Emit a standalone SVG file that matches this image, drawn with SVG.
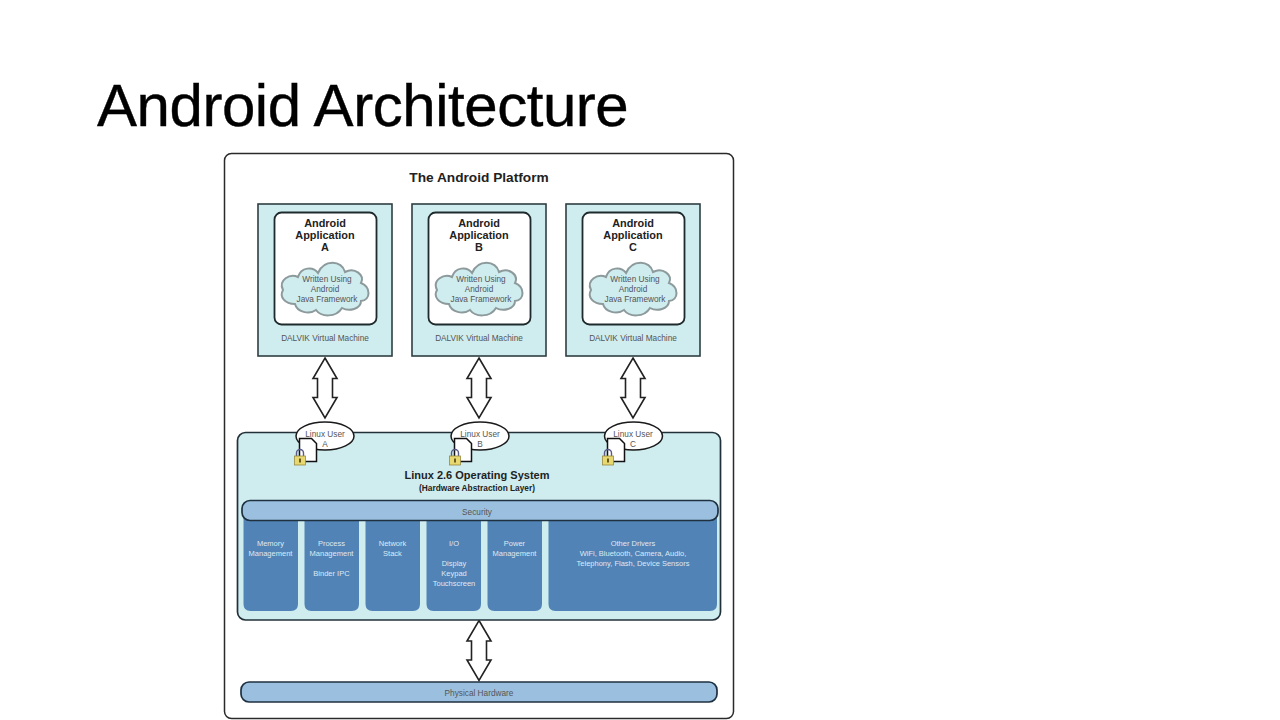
<svg xmlns="http://www.w3.org/2000/svg" xmlns:xlink="http://www.w3.org/1999/xlink" width="1280" height="720" viewBox="0 0 1280 720">
<style>
text{font-family:"Liberation Sans",Arial,sans-serif;text-anchor:middle;fill:#444}
.title{font-size:60px;text-anchor:start;fill:#000;stroke:#000;stroke-width:.4px;letter-spacing:-.45px}
.b{font-weight:bold;fill:#222}
.h{font-size:10.900px}
.s{font-size:8.250px;fill:#555}
.w{font-size:7.500px;fill:#dfe9f3}
.vm{fill:#cfecef;stroke:#2f3f42;stroke-width:1.600}
.app{fill:#fff;stroke:#1f2a2c;stroke-width:1.800}
.bar{fill:#9bc0df;stroke:#1f3040;stroke-width:1.700}
.drv{fill:#5183b6}
.arr{fill:#fff;stroke:#222;stroke-width:1.600}
.cl{fill:#cfecef;stroke:#8d9a9c;stroke-width:2}
</style>
<defs>
<path id="cloud" d="M-30 16C-40 16-46 9-42 2C-47 -8-35 -15-27 -11C-24 -21-12 -22-7 -15C-1 -29 17 -28 20 -16C30 -21 40 -13 36 -5C46 -1 46 12 36 13C36 21 24 24 17 20C11 30-4 29-9 22C-16 27-28 24-30 16Z"/>
<path id="arrow" d="M0 0L12 20.500H7.500V39.500H12L0 60L-12 39.500H-7.500V20.500H-12Z"/>
<g id="lock">
<path d="M-3.500 -3V-6A3.500 3.500 0 0 1 3.500 -6V-3" fill="none" stroke="#5a5a8a" stroke-width="1.400"/>
<rect x="-5.500" y="-3" width="11" height="9" fill="#e8d870" stroke="#9a8a40" stroke-width=".8"/>
<rect x="-1" y="-.5" width="2" height="4" fill="#6a5a20"/>
</g>
<path id="doc" d="M-8.500 -11.500H3.500L8.500 -6.500V11.500H-8.500Z" fill="#fff" stroke="#111" stroke-width="1.500"/>
</defs>
<rect width="1280" height="720" fill="#fff"/>
<text class="title" x="97" y="126">Android Architecture</text>
<rect id="platform" x="224.500" y="153.500" width="509" height="565" rx="7" fill="#fff" stroke="#2a2a2a" stroke-width="1.500"/>
<text class="b" x="479" y="182" style="font-size:13.700px">The Android Platform</text>

<g id="connectors">
<use xlink:href="#arrow" href="#arrow" class="arr" transform="translate(325 358)"/>
<use xlink:href="#arrow" href="#arrow" class="arr" transform="translate(479 358)"/>
<use xlink:href="#arrow" href="#arrow" class="arr" transform="translate(633 358)"/>
<use xlink:href="#arrow" href="#arrow" class="arr" transform="translate(479 620.500)"/>
</g>

<g id="vm-a">
<rect class="vm" x="258" y="204" width="134" height="152"/>
<rect class="app" x="274.500" y="212.500" width="102" height="112" rx="7"/>
<text class="b h" x="325" y="227">Android</text><text class="b h" x="325" y="239">Application</text><text class="b h" x="325" y="251">A</text>
<use xlink:href="#cloud" href="#cloud" class="cl" transform="translate(325 288)"/>
<text class="s" x="327" y="282">Written Using</text><text class="s" x="325" y="292">Android</text><text class="s" x="327" y="302">Java Framework</text>
<text class="s" x="325" y="341">DALVIK Virtual Machine</text>
</g>
<g id="vm-b">
<rect class="vm" x="412" y="204" width="134" height="152"/>
<rect class="app" x="428.500" y="212.500" width="102" height="112" rx="7"/>
<text class="b h" x="479" y="227">Android</text><text class="b h" x="479" y="239">Application</text><text class="b h" x="479" y="251">B</text>
<use xlink:href="#cloud" href="#cloud" class="cl" transform="translate(479 288)"/>
<text class="s" x="481" y="282">Written Using</text><text class="s" x="479" y="292">Android</text><text class="s" x="481" y="302">Java Framework</text>
<text class="s" x="479" y="341">DALVIK Virtual Machine</text>
</g>
<g id="vm-c">
<rect class="vm" x="566" y="204" width="134" height="152"/>
<rect class="app" x="582.500" y="212.500" width="102" height="112" rx="7"/>
<text class="b h" x="633" y="227">Android</text><text class="b h" x="633" y="239">Application</text><text class="b h" x="633" y="251">C</text>
<use xlink:href="#cloud" href="#cloud" class="cl" transform="translate(633 288)"/>
<text class="s" x="635" y="282">Written Using</text><text class="s" x="633" y="292">Android</text><text class="s" x="635" y="302">Java Framework</text>
<text class="s" x="633" y="341">DALVIK Virtual Machine</text>
</g>

<g id="linux">
<rect x="237.500" y="432.500" width="483" height="187.500" rx="8" fill="#cfecef" stroke="#22303a" stroke-width="1.700"/>
<text class="b" x="477" y="479" style="font-size:11px">Linux 2.6 Operating System</text>
<text class="b" x="477" y="491" style="font-size:8.300px">(Hardware Abstraction Layer)</text>
</g>
<g id="drivers">
<path class="drv" d="M243.500 518H298V604Q298 611 291 611H250.500Q243.500 611 243.500 604Z"/>
<path class="drv" d="M304.500 518H359V604Q359 611 352 611H311.500Q304.500 611 304.500 604Z"/>
<path class="drv" d="M365.500 518H420V604Q420 611 413 611H372.500Q365.500 611 365.500 604Z"/>
<path class="drv" d="M426.500 518H481V604Q481 611 474 611H433.500Q426.500 611 426.500 604Z"/>
<path class="drv" d="M487.500 518H542V604Q542 611 535 611H494.500Q487.500 611 487.500 604Z"/>
<path class="drv" d="M548.500 518H717V604Q717 611 710 611H555.500Q548.500 611 548.500 604Z"/>
<text class="w" x="270.500" y="546">Memory</text><text class="w" x="270.500" y="556">Management</text>
<text class="w" x="331.500" y="546">Process</text><text class="w" x="331.500" y="556">Management</text><text class="w" x="331.500" y="576">Binder IPC</text>
<text class="w" x="392.500" y="546">Network</text><text class="w" x="392.500" y="556">Stack</text>
<text class="w" x="454" y="546">I/O</text><text class="w" x="454" y="566">Display</text><text class="w" x="454" y="576">Keypad</text><text class="w" x="454" y="586">Touchscreen</text>
<text class="w" x="514.500" y="546">Power</text><text class="w" x="514.500" y="556">Management</text>
<text class="w" x="633" y="546">Other Drivers</text><text class="w" x="633" y="556">WiFi, Bluetooth, Camera, Audio,</text><text class="w" x="633" y="566">Telephony, Flash, Device Sensors</text>
</g>
<g id="security">
<rect class="bar" x="242" y="500.500" width="476" height="20" rx="8"/>
<text class="s" x="477" y="515">Security</text>
</g>
<g id="hardware">
<rect class="bar" x="241" y="682" width="476" height="20" rx="8"/>
<text class="s" x="479" y="696">Physical Hardware</text>
</g>
<g id="user-a">
<ellipse cx="325" cy="436" rx="29" ry="14" fill="#fff" stroke="#1a1a1a" stroke-width="1.500"/>
<text class="s" x="325" y="437">Linux User</text><text class="s" x="325" y="447">A</text>
<use xlink:href="#doc" href="#doc" transform="translate(308 450)"/>
<use xlink:href="#lock" href="#lock" transform="translate(300 459)"/>
</g>
<g id="user-b">
<ellipse cx="480" cy="436" rx="29" ry="14" fill="#fff" stroke="#1a1a1a" stroke-width="1.500"/>
<text class="s" x="480" y="437">Linux User</text><text class="s" x="480" y="447">B</text>
<use xlink:href="#doc" href="#doc" transform="translate(463 450)"/>
<use xlink:href="#lock" href="#lock" transform="translate(455 459)"/>
</g>
<g id="user-c">
<ellipse cx="633.500" cy="436" rx="29" ry="14" fill="#fff" stroke="#1a1a1a" stroke-width="1.500"/>
<text class="s" x="633" y="437">Linux User</text><text class="s" x="633" y="447">C</text>
<use xlink:href="#doc" href="#doc" transform="translate(616 450)"/>
<use xlink:href="#lock" href="#lock" transform="translate(608 459)"/>
</g>
</svg>
